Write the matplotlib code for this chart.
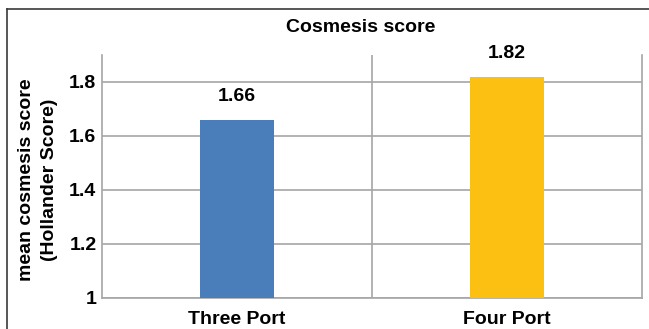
import matplotlib.pyplot as plt
from matplotlib.lines import Line2D

groups = ["Three Port", "Four Port"]
scores = [1.66, 1.82]
bar_colors = ["#4A7EBB", "#FBC011"]
y_ticks = [1, 1.2, 1.4, 1.6, 1.8]
y_tick_labels = ["1", "1.2", "1.4", "1.6", "1.8"]

plt.rcParams["font.family"] = ["Liberation Sans", "DejaVu Sans"]
plt.rcParams["font.weight"] = "bold"

GRID = "#a6a6a6"
FS = 14

fig = plt.figure(figsize=(6.49, 3.29), dpi=100)
ax = fig.add_axes([102 / 649, 1 - 298 / 329, 540 / 649, 243 / 329])

x = list(range(len(groups)))
ax.bar(x, [s - 1 for s in scores], bottom=1, width=0.275, color=bar_colors, zorder=3)

for xi, s in zip(x, scores):
    ax.annotate(f"{s:.2f}", (xi, s), xytext=(0, 16.5), textcoords="offset points",
                ha="center", va="center", fontsize=FS, fontweight="bold")

ax.set_xlim(-0.5, len(groups) - 0.5)
ax.set_ylim(1, 1.9)
ax.set_yticks(y_ticks)
ax.set_yticklabels(y_tick_labels, fontsize=FS, fontweight="bold")
ax.set_xticks(x)
ax.set_xticklabels(groups, fontsize=FS, fontweight="bold")
ax.tick_params(axis="y", length=0, pad=4)
ax.tick_params(axis="x", length=0, pad=9)

ax.grid(axis="y", color=GRID, linewidth=1.2, zorder=0)
ax.axvline(0.5, color=GRID, linewidth=1.2, zorder=0)

for side in ["left", "right", "bottom"]:
    ax.spines[side].set_color(GRID)
    ax.spines[side].set_linewidth(1.2)
ax.spines["top"].set_visible(False)

ax.set_ylabel("mean cosmesis score\n(Hollander Score)", fontsize=FS,
              fontweight="bold", linespacing=1.45)
ax.yaxis.set_label_coords((58 - 102) / 540, (298 - 180) / 243)

fig.text(361 / 649, 1 - 28 / 329, "Cosmesis score", ha="center", va="center",
         fontsize=FS, fontweight="bold")

# outer frame (only left and top edges are visible)
fig.add_artist(Line2D([7 / 649, 7 / 649], [0, 1 - 9 / 329], color="#3a3a3a", linewidth=1.2))
fig.add_artist(Line2D([7 / 649, 1], [1 - 9 / 329, 1 - 9 / 329], color="#3a3a3a", linewidth=1.2))

fig.savefig("out.png", dpi=100)
